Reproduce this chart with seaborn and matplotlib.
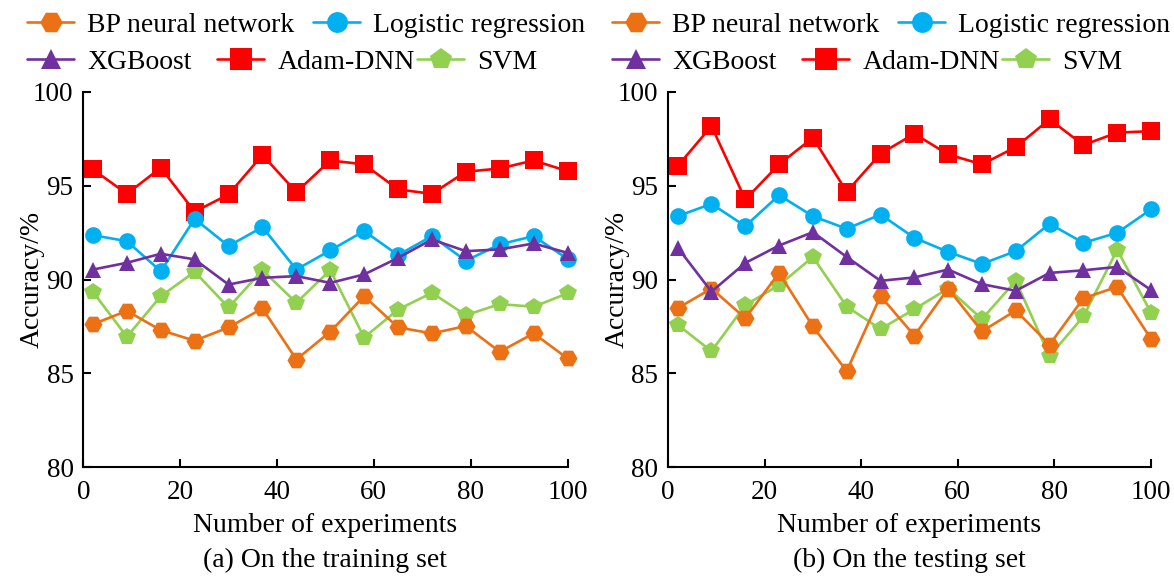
import matplotlib
matplotlib.use("Agg")
import matplotlib.pyplot as plt
import seaborn as sns

# ---------------- data ----------------
experiments = [2, 9, 16, 23, 30, 37, 44, 51, 58, 65, 72, 79, 86, 93, 100]

series_names = ["BP neural network", "Logistic regression", "XGBoost", "Adam-DNN", "SVM"]

train_bp = [87.62, 88.33, 87.30, 86.74, 87.45, 88.46, 85.74, 87.22, 89.11, 87.45, 87.13, 87.52, 86.15, 87.13, 85.80]
train_lr = [92.36, 92.04, 90.44, 93.23, 91.78, 92.79, 90.53, 91.55, 92.58, 91.30, 92.31, 91.00, 91.87, 92.31, 91.10]
train_xgb = [90.53, 90.89, 91.37, 91.07, 89.73, 90.09, 90.18, 89.82, 90.27, 91.15, 92.13, 91.51, 91.60, 91.92, 91.42]
train_adam = [95.86, 94.56, 95.95, 93.61, 94.53, 96.63, 94.65, 96.34, 96.13, 94.80, 94.56, 95.74, 95.91, 96.34, 95.77]
train_svm = [89.34, 86.95, 89.11, 90.41, 88.51, 90.50, 88.76, 90.50, 86.91, 88.40, 89.29, 88.10, 88.69, 88.55, 89.26]

test_bp = [88.47, 89.52, 87.94, 90.35, 87.50, 85.12, 89.12, 87.01, 89.52, 87.24, 88.35, 86.53, 89.00, 89.61, 86.83]
test_lr = [93.37, 94.03, 92.84, 94.49, 93.37, 92.70, 93.46, 92.22, 91.47, 90.83, 91.51, 92.97, 91.95, 92.49, 93.73]
test_xgb = [91.70, 89.35, 90.88, 91.81, 92.52, 91.20, 89.93, 90.11, 90.53, 89.75, 89.40, 90.35, 90.49, 90.67, 89.44]
test_adam = [96.04, 98.17, 94.26, 96.13, 97.55, 94.67, 96.70, 97.76, 96.66, 96.13, 97.05, 98.53, 97.16, 97.82, 97.90]
test_svm = [87.59, 86.18, 88.64, 89.70, 91.20, 88.56, 87.36, 88.42, 89.52, 87.89, 89.93, 85.92, 88.03, 91.58, 88.24]

x_ticks = [0, 20, 40, 60, 80, 100]
y_ticks = [80, 85, 90, 95, 100]
subtitles = ["(a) On the training set", "(b) On the testing set"]

# ---------------- style ----------------
sns.set_theme(style="ticks", rc={
    "text.color": "black", "axes.labelcolor": "black",
    "xtick.color": "black", "ytick.color": "black",
    "axes.edgecolor": "black",
})
plt.rcParams["font.family"] = ["Liberation Serif", "DejaVu Serif"]

styles = {
    "BP neural network": dict(color="#EC7014", marker="H", markersize=13),
    "Logistic regression": dict(color="#00B0F0", marker="o", markersize=12),
    "XGBoost": dict(color="#7030A0", marker="^", markersize=12),
    "Adam-DNN": dict(color="#FF0000", marker="s", markersize=12.5),
    "SVM": dict(color="#92D050", marker="p", markersize=13),
}
draw_order = ["Adam-DNN", "SVM", "BP neural network", "Logistic regression", "XGBoost"]

W, H = 1174, 576
fig = plt.figure(figsize=(W / 100, H / 100), dpi=100)

y0_px, y1_px = 467.3, 91.7
ax_h = (y0_px - y1_px) / H
axL = fig.add_axes([83.3 / W, (H - y0_px) / H, 484.2 / W, ax_h])
axR = fig.add_axes([668.0 / W, (H - y0_px) / H, 483.0 / W, ax_h])

panels = [
    (axL, {"BP neural network": train_bp, "Logistic regression": train_lr, "XGBoost": train_xgb,
           "Adam-DNN": train_adam, "SVM": train_svm}),
    (axR, {"BP neural network": test_bp, "Logistic regression": test_lr, "XGBoost": test_xgb,
           "Adam-DNN": test_adam, "SVM": test_svm}),
]

handles_per_panel = []
for (ax, data), sub in zip(panels, subtitles):
    handles = {}
    for name in draw_order:
        st = styles[name]
        sns.lineplot(x=experiments, y=data[name], ax=ax, color=st["color"], marker=st["marker"],
                     markersize=st["markersize"], markeredgewidth=0, linewidth=1.9,
                     clip_on=False, legend=False, errorbar=None)
        handles[name] = ax.lines[-1]
    handles_per_panel.append(handles)

    ax.set_xlim(0, 100)
    ax.set_ylim(80, 100)
    ax.set_xticks(x_ticks)
    ax.set_yticks(y_ticks)
    for s in ["top", "right"]:
        ax.spines[s].set_visible(False)
    for s in ["left", "bottom"]:
        ax.spines[s].set_linewidth(1.5)
    ax.tick_params(direction="in", length=6, width=1.5, labelsize=19.5, pad=7)
    ax.tick_params(axis="x", pad=9)

    ax.set_ylabel("Accuracy/%", fontsize=20)
    ax.yaxis.set_label_coords(-0.079, 0.5)
    ax.set_xlabel("Number of experiments", fontsize=20)
    ax.xaxis.label.set_va("baseline")
    ax.xaxis.set_label_coords(0.5, -(531.7 - y0_px) / (y0_px - y1_px))
    ax.text(0.5, -(566.7 - y0_px) / (y0_px - y1_px), sub, transform=ax.transAxes,
            ha="center", va="baseline", fontsize=20)

# ---------------- legends (two rows above each panel) ----------------
entry_pos = [
    ("BP neural network", 27, 25), ("Logistic regression", 313, 25),
    ("XGBoost", 27, 62), ("Adam-DNN", 217, 62), ("SVM", 417, 62),
]
for offset, handles in zip([0, 585], handles_per_panel):
    for name, xp, yp in entry_pos:
        fig.legend([handles[name]], [name], loc="center left",
                   bbox_to_anchor=((xp + offset) / W, 1 - yp / H),
                   frameon=False, borderpad=0, borderaxespad=0, markerscale=1.25,
                   handlelength=1.7, handletextpad=0.47, fontsize=20)

fig.savefig("out.png", dpi=100)
